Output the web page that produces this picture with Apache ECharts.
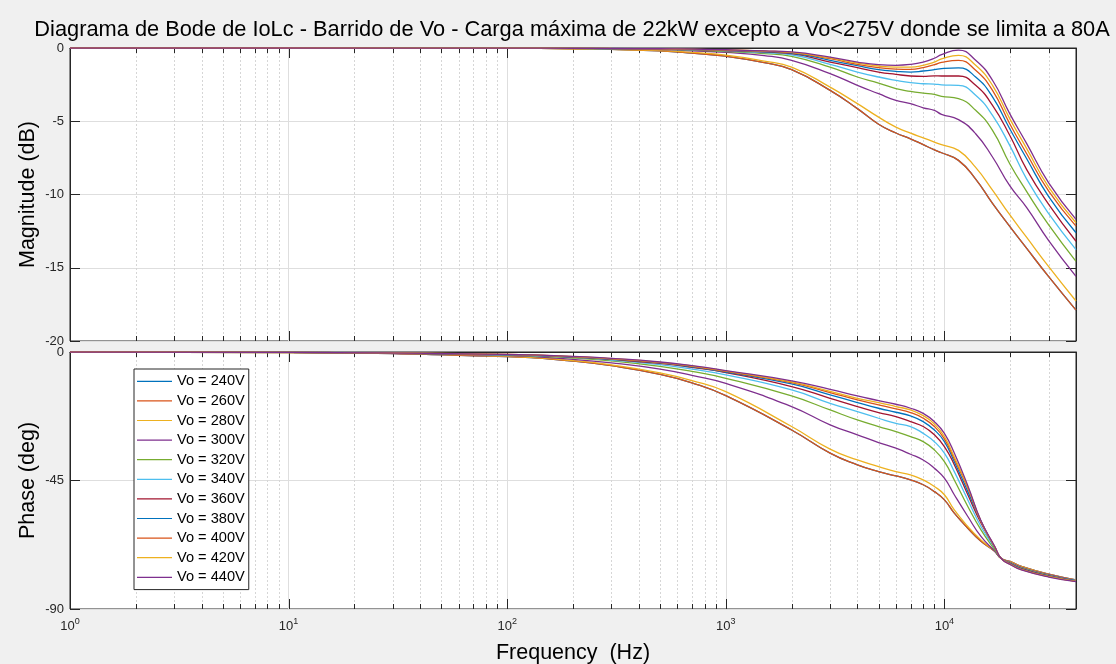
<!DOCTYPE html>
<html><head><meta charset="utf-8">
<script src="https://cdn.jsdelivr.net/npm/echarts/dist/echarts.min.js"></script>
<style>html,body{margin:0;padding:0;background:#f0f0f0}#c{width:1116px;height:664px}</style>
</head><body><div id="c"></div>
<script>
// ---------- DATA ----------
const titleText = 'Diagrama de Bode de IoLc - Barrido de Vo - Carga máxima de 22kW excepto a Vo<275V donde se limita a 80A';
const seriesNames = ['Vo = 240V','Vo = 260V','Vo = 280V','Vo = 300V','Vo = 320V','Vo = 340V','Vo = 360V','Vo = 380V','Vo = 400V','Vo = 420V','Vo = 440V'];
const seriesColors = ['#0072BD','#D95319','#EDB120','#7E2F8E','#77AC30','#4DBEEE','#A2142F','#0072BD','#D95319','#EDB120','#7E2F8E'];

// Magnitude (dB)
const freqMag = [1, 10, 100, 200, 300, 500, 700, 1000, 1500, 2000, 3000, 4000, 5000, 6000, 7000, 8000, 9000, 9700, 11600, 13900, 16600, 19900, 23800, 30000, 40000];
const mag240 = [0, 0, -0.02, -0.05, -0.1, -0.2, -0.35, -0.56, -1.0, -1.48, -2.89, -4.14, -5.2, -5.8, -6.2, -6.6, -6.95, -7.15, -7.67, -8.95, -10.6, -12.17, -13.68, -15.61, -17.89];
const mag260 = [0, 0, -0.02, -0.05, -0.1, -0.2, -0.35, -0.56, -1.0, -1.48, -2.89, -4.14, -5.2, -5.8, -6.2, -6.6, -6.95, -7.15, -7.67, -8.95, -10.6, -12.17, -13.68, -15.61, -17.89];
const mag280 = [0, 0, -0.02, -0.05, -0.1, -0.18, -0.3, -0.48, -0.89, -1.3, -2.67, -3.8, -4.72, -5.4, -5.81, -6.13, -6.42, -6.6, -6.99, -8.15, -9.7, -11.38, -12.93, -14.93, -17.27];
const mag300 = [0, 0, -0.01, -0.03, -0.06, -0.11, -0.19, -0.3, -0.52, -0.84, -1.75, -2.55, -3.12, -3.58, -3.8, -4.08, -4.26, -4.53, -4.89, -5.85, -7.44, -9.4, -10.9, -13.15, -15.59];
const mag320 = [0, 0, -0.01, -0.03, -0.05, -0.09, -0.15, -0.24, -0.38, -0.57, -1.3, -1.98, -2.39, -2.78, -2.96, -3.08, -3.17, -3.3, -3.46, -4.25, -5.62, -7.9, -9.8, -12.08, -14.56];
const mag340 = [0, 0, -0.01, -0.02, -0.05, -0.08, -0.13, -0.2, -0.32, -0.46, -1.12, -1.64, -1.98, -2.21, -2.37, -2.44, -2.46, -2.52, -2.55, -3.23, -4.6, -6.65, -8.95, -11.3, -13.76];
const mag360 = [0, 0, -0.01, -0.02, -0.04, -0.07, -0.11, -0.17, -0.27, -0.39, -0.96, -1.34, -1.64, -1.8, -1.91, -1.94, -1.9, -1.91, -1.91, -2.55, -3.91, -5.96, -8.3, -10.67, -13.19];
const mag380 = [0, 0, -0.01, -0.02, -0.04, -0.06, -0.1, -0.15, -0.24, -0.34, -0.84, -1.21, -1.48, -1.59, -1.64, -1.57, -1.48, -1.41, -1.36, -1.98, -3.34, -5.51, -7.56, -10.14, -12.61];
const mag400 = [0, 0, -0.01, -0.02, -0.04, -0.06, -0.09, -0.14, -0.22, -0.32, -0.73, -1.12, -1.34, -1.44, -1.46, -1.34, -1.14, -0.98, -0.84, -1.52, -2.89, -5.17, -7.22, -9.77, -12.16];
const mag420 = [0, 0, -0.01, -0.02, -0.03, -0.05, -0.09, -0.13, -0.21, -0.3, -0.68, -1.03, -1.23, -1.3, -1.3, -1.18, -0.96, -0.75, -0.5, -1.18, -2.55, -4.82, -6.87, -9.5, -11.93];
const mag440 = [0, 0, -0.01, -0.02, -0.03, -0.05, -0.08, -0.12, -0.2, -0.27, -0.62, -0.96, -1.14, -1.18, -1.12, -0.96, -0.7, -0.45, -0.14, -0.84, -2.2, -4.48, -6.53, -9.2, -11.7];

// Phase (deg)
const freqPhase = [1, 10, 100, 200, 300, 500, 700, 1000, 2000, 3000, 4000, 5000, 6000, 7000, 8000, 9000, 10000, 11100, 12800, 14700, 17000, 18200, 20200, 22500, 30000, 40000];
const ph240 = [0, -0.2, -1.6, -3.2, -4.8, -7.8, -10.8, -15.3, -27.3, -35.4, -39.5, -41.9, -43.4, -44.8, -46.5, -48.9, -51.8, -56.4, -61.7, -66.3, -69.8, -72.3, -73.5, -75.1, -77.8, -79.8];
const ph260 = [0, -0.2, -1.6, -3.2, -4.8, -7.8, -10.8, -15.3, -27.3, -35.4, -39.5, -41.9, -43.4, -44.8, -46.5, -48.9, -51.8, -56.4, -61.7, -66.3, -69.8, -72.3, -73.5, -75.1, -77.8, -79.8];
const ph280 = [0, -0.2, -1.5, -3.0, -4.5, -7.3, -10.0, -13.9, -26.1, -34.0, -37.8, -40.1, -41.9, -43.0, -44.8, -47.1, -50.0, -55.3, -61.1, -65.8, -69.8, -72.3, -73.6, -75.2, -77.9, -79.9];
const ph300 = [0, -0.15, -1.3, -2.6, -3.8, -6.0, -8.2, -11.0, -19.1, -25.5, -29.0, -31.7, -33.7, -35.8, -37.8, -40.7, -44.2, -50.0, -57.6, -64.6, -69.8, -72.3, -73.8, -75.4, -78.0, -80.0];
const ph320 = [0, -0.1, -1.1, -2.1, -3.1, -5.0, -6.8, -9.2, -15.4, -20.3, -23.8, -26.1, -27.9, -29.6, -31.4, -34.3, -38.4, -44.8, -54.1, -62.3, -69.3, -72.3, -74.0, -75.6, -78.2, -80.1];
const ph340 = [0, -0.1, -1.0, -1.9, -2.8, -4.4, -6.0, -8.0, -13.3, -18.0, -20.9, -23.2, -25.0, -26.1, -28.5, -31.4, -35.4, -41.9, -51.8, -61.1, -68.7, -72.3, -74.1, -75.8, -78.3, -80.1];
const ph360 = [0, -0.1, -0.9, -1.8, -2.6, -4.0, -5.4, -7.2, -12.1, -16.2, -19.1, -21.2, -22.6, -24.4, -26.1, -29.0, -33.1, -39.5, -50.0, -59.9, -68.2, -72.3, -74.2, -75.9, -78.4, -80.2];
const ph380 = [0, -0.1, -0.9, -1.7, -2.5, -3.8, -5.2, -7.0, -11.2, -15.0, -17.7, -19.7, -21.1, -22.4, -24.4, -27.3, -31.4, -38.4, -48.9, -59.3, -68.6, -72.3, -74.3, -76.0, -78.5, -80.2];
const ph400 = [0, -0.1, -0.85, -1.6, -2.4, -3.7, -5.0, -6.8, -10.7, -14.2, -16.8, -18.5, -19.9, -21.2, -23.2, -26.1, -30.4, -37.5, -47.7, -59.3, -68.4, -72.3, -74.4, -76.1, -78.6, -80.3];
const ph420 = [0, -0.1, -0.8, -1.6, -2.3, -3.6, -4.9, -6.6, -10.5, -13.8, -16.2, -17.7, -19.1, -20.3, -22.3, -25.2, -29.6, -36.8, -47.3, -59.3, -68.3, -72.3, -74.5, -76.2, -78.7, -80.3];
const ph440 = [0, -0.1, -0.8, -1.5, -2.2, -3.5, -4.8, -6.5, -10.1, -13.1, -15.4, -17.0, -18.3, -19.7, -21.5, -24.4, -28.5, -35.4, -46.8, -59.1, -68.1, -72.3, -74.6, -76.3, -78.8, -80.4];

// axis decorations
const majorFreqs = [1, 10, 100, 1000, 10000];
const minorFreqs = [2,3,4,5,6,7,8,9, 20,30,40,50,60,70,80,90, 200,300,400,500,600,700,800,900, 2000,3000,4000,5000,6000,7000,8000,9000, 20000,30000];
const magRange = [-20, 0];
const phaseRange = [-90, 0];

// ---------- CHART ----------
const magData = [mag240, mag260, mag280, mag300, mag320, mag340, mag360, mag380, mag400, mag420, mag440];
const phData = [ph240, ph260, ph280, ph300, ph320, ph340, ph360, ph380, ph400, ph420, ph440];
const zip = (xs, ys) => xs.map((x, i) => [x, ys[i]]);

const FONT = '"Liberation Sans", Arial, Helvetica, sans-serif';
const AX = '#262626';
const MAJ = '#dedede';

function tickRenderer(yMin, yMax) {
  return function (params, api) {
    const f = api.value(0);
    const major = api.value(2) === 1;
    const t = api.coord([f, yMax]);
    const b = api.coord([f, yMin]);
    const x = Math.round(t[0]) + 0.5;
    const L = major ? 10 : 5;
    const ch = [];
    if (!major) {
      ch.push({type: 'line', shape: {x1: x, y1: t[1], x2: x, y2: b[1]},
        style: {stroke: '#d6d6d6', lineWidth: 1, lineDash: [2, 2]}, z2: 0});
    }
    ch.push({type: 'line', shape: {x1: x, y1: b[1], x2: x, y2: b[1] - L}, style: {stroke: AX, lineWidth: 1}, z2: 5});
    ch.push({type: 'line', shape: {x1: x, y1: t[1], x2: x, y2: t[1] + L}, style: {stroke: AX, lineWidth: 1}, z2: 5});
    return {type: 'group', children: ch};
  };
}
function tickData(yMin) {
  return majorFreqs.map(f => [f, yMin, 1]).concat(minorFreqs.map(f => [f, yMin, 0]));
}

const series = [];
series.push({type: 'custom', xAxisIndex: 0, yAxisIndex: 0, renderItem: tickRenderer(magRange[0], magRange[1]),
  data: tickData(magRange[0]), encode: {x: 0, y: 1}, silent: true, z: 1, legendHoverLink: false});
series.push({type: 'custom', xAxisIndex: 1, yAxisIndex: 2, renderItem: tickRenderer(phaseRange[0], phaseRange[1]),
  data: tickData(phaseRange[0]), encode: {x: 0, y: 1}, silent: true, z: 1, legendHoverLink: false});

seriesNames.forEach((n, i) => {
  const common = {type: 'line', name: n, symbol: 'none', showSymbol: false, smooth: 0.5,
    lineStyle: {width: 1.3, color: seriesColors[i]}, itemStyle: {color: seriesColors[i]}, z: 3, animation: false};
  series.push(Object.assign({}, common, {xAxisIndex: 0, yAxisIndex: 0, data: zip(freqMag, magData[i])}));
  series.push(Object.assign({}, common, {xAxisIndex: 1, yAxisIndex: 2, data: zip(freqPhase, phData[i])}));
});

const xBase = {
  type: 'log', logBase: 10, min: 1, max: 40000,
  axisLine: {show: true, lineStyle: {color: AX}},
  axisTick: {show: false},
  splitLine: {show: true, lineStyle: {color: MAJ, width: 1}},
  minorTick: {show: false}, minorSplitLine: {show: false}
};
const yBase = {
  type: 'value',
  axisLine: {show: true, lineStyle: {color: AX}},
  axisTick: {show: true, inside: true, length: 10, lineStyle: {color: AX}},
  axisLabel: {fontSize: 13, color: AX, margin: 6, fontFamily: FONT},
  splitLine: {show: true, lineStyle: {color: MAJ, width: 1}},
  nameLocation: 'middle', nameRotate: 90, nameGap: 31, nameMoveOverlap: false,
  nameTextStyle: {fontSize: 21.5, color: '#000', fontFamily: FONT}
};
const yRight = {
  type: 'value', position: 'right',
  axisLine: {show: true, lineStyle: {color: AX}},
  axisTick: {show: true, inside: true, length: 10, lineStyle: {color: AX}},
  axisLabel: {show: false}, splitLine: {show: false}
};

const option = {
  animation: false,
  backgroundColor: '#f0f0f0',
  textStyle: {fontFamily: FONT},
  graphic: [{
    type: 'text', x: 572, y: 30, silent: true,
    style: {text: titleText, fill: '#000', fontSize: 21.8, fontFamily: FONT, align: 'center', verticalAlign: 'middle'}
  }],
  legend: {
    orient: 'vertical', left: 134, top: 369,
    icon: 'rect', itemWidth: 35, itemHeight: 1.2, itemGap: 3,
    padding: [4, 4, 4, 3],
    backgroundColor: '#fff', borderColor: AX, borderWidth: 1,
    textStyle: {fontSize: 14.6, color: '#000', fontFamily: FONT, lineHeight: 16.6},
    data: seriesNames
  },
  grid: [
    {left: 70, top: 48, width: 1006, height: 293, outerBoundsMode: 'none', containLabel: false, show: true, backgroundColor: '#fff', borderColor: AX, borderWidth: 1},
    {left: 70, top: 352, width: 1006, height: 257, outerBoundsMode: 'none', containLabel: false, show: true, backgroundColor: '#fff', borderColor: AX, borderWidth: 1}
  ],
  xAxis: [
    Object.assign({}, xBase, {gridIndex: 0, axisLabel: {show: false}}),
    Object.assign({}, xBase, {gridIndex: 1,
      axisLabel: {show: true, showMaxLabel: false, margin: 8,
        formatter: v => '{b|10}{s|' + Math.round(Math.log10(v)) + '}',
        rich: {
          b: {fontSize: 13, color: AX, fontFamily: FONT, verticalAlign: 'bottom'},
          s: {fontSize: 9, color: AX, fontFamily: FONT, verticalAlign: 'bottom', padding: [0, 0, 7, 0]}
        }},
      name: 'Frequency  (Hz)', nameLocation: 'middle', nameGap: 33, nameMoveOverlap: false,
      nameTextStyle: {fontSize: 21.5, color: '#000', fontFamily: FONT}})
  ],
  yAxis: [
    Object.assign({}, yBase, {gridIndex: 0, min: magRange[0], max: magRange[1], interval: 5, name: 'Magnitude (dB)'}),
    Object.assign({}, yRight, {gridIndex: 0, min: magRange[0], max: magRange[1], interval: 5}),
    Object.assign({}, yBase, {gridIndex: 1, min: phaseRange[0], max: phaseRange[1], interval: 45, name: 'Phase (deg)'}),
    Object.assign({}, yRight, {gridIndex: 1, min: phaseRange[0], max: phaseRange[1], interval: 45})
  ],
  series: series
};

const chart = echarts.init(document.getElementById('c'), null, {renderer: 'canvas'});
chart.setOption(option);
</script></body></html>
